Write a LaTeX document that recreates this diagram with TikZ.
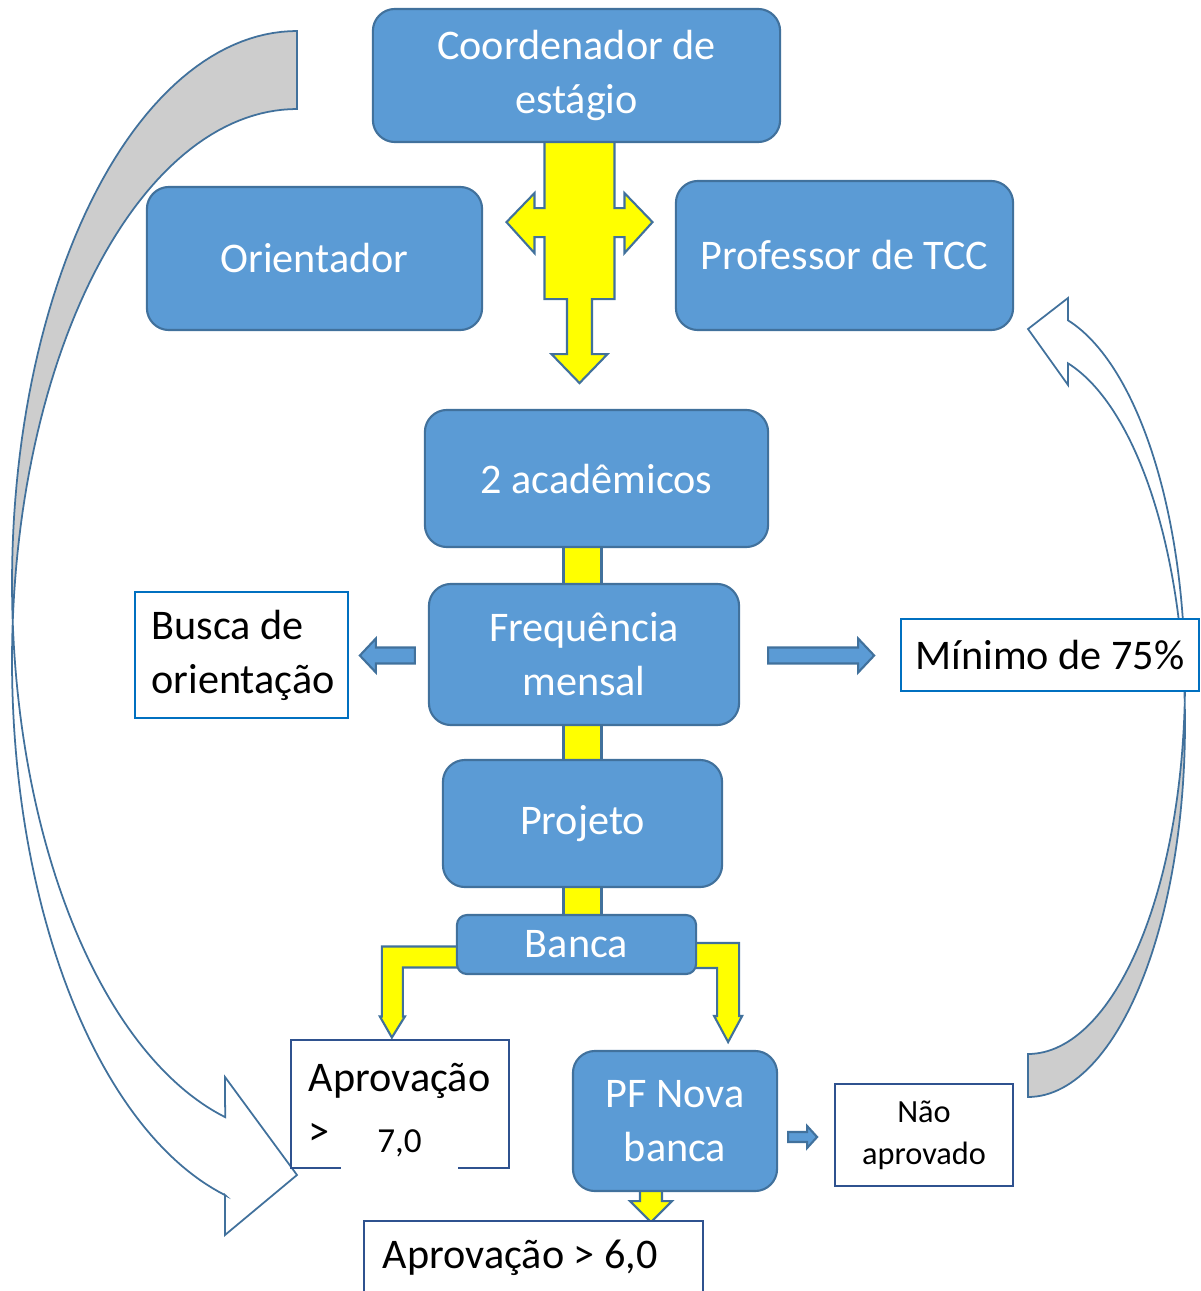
\documentclass[tikz,border=0pt]{standalone}
\usepackage{fontspec}
\setmainfont{Carlito}
\usetikzlibrary{calc}
\definecolor{azul}{RGB}{91,155,213}
\definecolor{borda}{RGB}{65,113,156}
\definecolor{amarelo}{RGB}{255,255,0}
\definecolor{cinza}{RGB}{205,205,205}
\definecolor{azulvivo}{RGB}{0,112,192}
\definecolor{marinho}{RGB}{47,82,143}
\newcommand{\fonteg}{\fontsize{12}{15.4}\selectfont}
\newcommand{\fontem}{\fontsize{9.2}{12}\selectfont}
\newcommand{\fontep}{\fontsize{10}{11}\selectfont}
\pgfdeclarelayer{fundo}
\pgfsetlayers{fundo,main}

\begin{document}
\begin{tikzpicture}[x=0.01cm, y=-0.01cm, font=\fonteg,
	caixa/.style={draw=borda, fill=azul, text=white, line width=0.6pt, rounded corners=0.22cm, align=center, inner sep=0pt},
	quadro/.style={draw=#1, fill=white, line width=0.6pt, inner ysep=0pt},
	setaamarela/.style={draw=borda, fill=amarelo, line width=0.6pt},
	setaazul/.style={draw=borda, fill=azul, line width=0.6pt},
	curva/.style={draw=borda, line width=0.5pt}]
	\useasboundingbox (0,0) rectangle (1200,1291);

	\node[caixa, minimum width=4.07cm, minimum height=1.33cm] (coord) at (576.5,75.5) {Coordenador de\\estágio};
	\node[caixa, minimum width=3.35cm, minimum height=1.43cm] (orient) at (314.5,258.5) {Orientador};
	\node[caixa, minimum width=3.37cm, minimum height=1.49cm] (prof) at (844.5,255.5) {Professor de TCC};
	\node[caixa, minimum width=3.43cm, minimum height=1.37cm] (acad) at (596.5,478.5) {2 acadêmicos};
	\node[caixa, minimum width=3.10cm, minimum height=1.41cm] (freq) at (584,654.5) {Frequência\\mensal};
	\node[caixa, minimum width=2.79cm, minimum height=1.27cm] (proj) at (582.5,823.5) {Projeto};
	\node[caixa, minimum width=2.39cm, minimum height=0.59cm, rounded corners=0.1cm] (banca) at (576.5,944.5) {Banca};
	\node[caixa, minimum width=2.04cm, minimum height=1.40cm] (pf) at (675,1121) {PF Nova\\banca};

	\node[quadro=azulvivo, minimum height=1.26cm, text width=1.8cm, inner xsep=0.165cm, align=flush left] (busca) at (241.5,655) {Busca de\\orientação};
	\node[quadro=azulvivo, minimum width=2.98cm, minimum height=0.72cm] (minimo) at (1050,655) {Mínimo de 75\%};
	\node[quadro=marinho, minimum height=1.28cm, text width=1.82cm, inner xsep=0.18cm, align=flush left] (apr7) at (400,1104) {Aprovação\\>};
	\node[fill=white, minimum width=1.17cm, minimum height=0.53cm, inner sep=0pt, font=\fontep] (nota7) at (399.5,1143.5) {7,0};
	\node[quadro=marinho, minimum width=1.78cm, minimum height=1.02cm, align=center, font=\fontem] (naoapr) at (924,1135) {Não\\aprovado};
	\node[quadro=marinho, minimum height=0.74cm, text width=3.01cm, inner xsep=0.19cm, align=flush left] (apr6) at (533.5,1258) {Aprovação > 6,0};

	\draw[setaazul] ($(freq.west)+(-13,-7)$) -- ++(-39,0) -- ++(0,-9) -- ++(-16,17) -- ++(16,17) -- ++(0,-9) -- ++(39,0) -- cycle;
	\draw[setaazul] ($(freq.east)+(28,-7)$) -- ++(90,0) -- ++(0,-9) -- ++(16,17) -- ++(-16,17) -- ++(0,-9) -- ++(-90,0) -- cycle;
	\draw[setaazul] ($(pf.east)+(10,11)$) -- ++(19,0) -- ++(0,-6) -- ++(10,11) -- ++(-10,11) -- ++(0,-6) -- ++(-19,0) -- cycle;

	\begin{pgfonlayer}{fundo}
		\draw[setaamarela, shift={(coord.south)}] (-32,-3) -- (38,-3) -- (38,65) -- (48,65) -- (48,50) -- (76,79) -- (48,110) -- (48,94) -- (38,94) -- (38,156) -- (15.5,156) -- (15.5,211) -- (31,211) -- (3,240) -- (-25,211) -- (-9.5,211) -- (-9.5,156) -- (-32,156) -- (-32,94) -- (-42,94) -- (-42,110) -- (-70,79) -- (-42,50) -- (-42,65) -- (-32,65) -- cycle;
		\draw[setaamarela] ($(acad.south -| proj)+(-19,-5)$) rectangle ($(banca.north -| proj)+(19,5)$);
		\draw[setaamarela] ($(banca.west)+(2,2)$) -- ++(-76,0) -- ++(0,70) -- ++(-2,0) -- ++(12,21) -- ++(13,-21) -- ++(-2,0) -- ++(0,-49) -- ++(55,0) -- cycle;
		\draw[setaamarela] ($(banca.east)+(-2,-1.5)$) -- ++(44,0) -- ++(0,73) -- ++(3,0) -- ++(-14,26) -- ++(-14,-26) -- ++(3,0) -- ++(0,-48) -- ++(-22,0) -- cycle;
		\draw[setaamarela] ($(pf.south)+(-35,-2)$) -- ++(22,0) -- ++(0,11) -- ++(10,0) -- ++(-21,21) -- ++(-21,-21) -- ++(10,0) -- cycle;

		\draw[curva, fill=cinza] plot[domain=270:175.95, samples=60] ({297+285*cos(\x)},{583+552*sin(\x)}) -- plot[domain=184.05:270, samples=60] ({297+285*cos(\x)},{661+552*sin(\x)}) -- cycle;
		\draw[curva, fill=white] plot[domain=175.95:104.6, samples=60] ({297+285*cos(\x)},{583+552*sin(\x)}) -- (225,1077) -- (297,1175) -- (225,1235) -- (225,1195) -- plot[domain=104.6:184.05, samples=60] ({297+285*cos(\x)},{661+552*sin(\x)}) -- cycle;
		\draw[curva, fill=cinza] plot[domain=90:-3.3, samples=60] ({1028+157*cos(\x)},{724+373*sin(\x)}) -- plot[domain=3.3:90, samples=60] ({1028+157*cos(\x)},{681+373*sin(\x)}) -- cycle;
		\draw[curva, fill=white] plot[domain=-3.3:-75.24, samples=60] ({1028+157*cos(\x)},{724+373*sin(\x)}) -- (1068,385) -- (1028,329) -- (1068,298) -- (1068,320) -- plot[domain=-75.24:3.3, samples=60] ({1028+157*cos(\x)},{681+373*sin(\x)}) -- cycle;
	\end{pgfonlayer}
\end{tikzpicture}
\end{document}
